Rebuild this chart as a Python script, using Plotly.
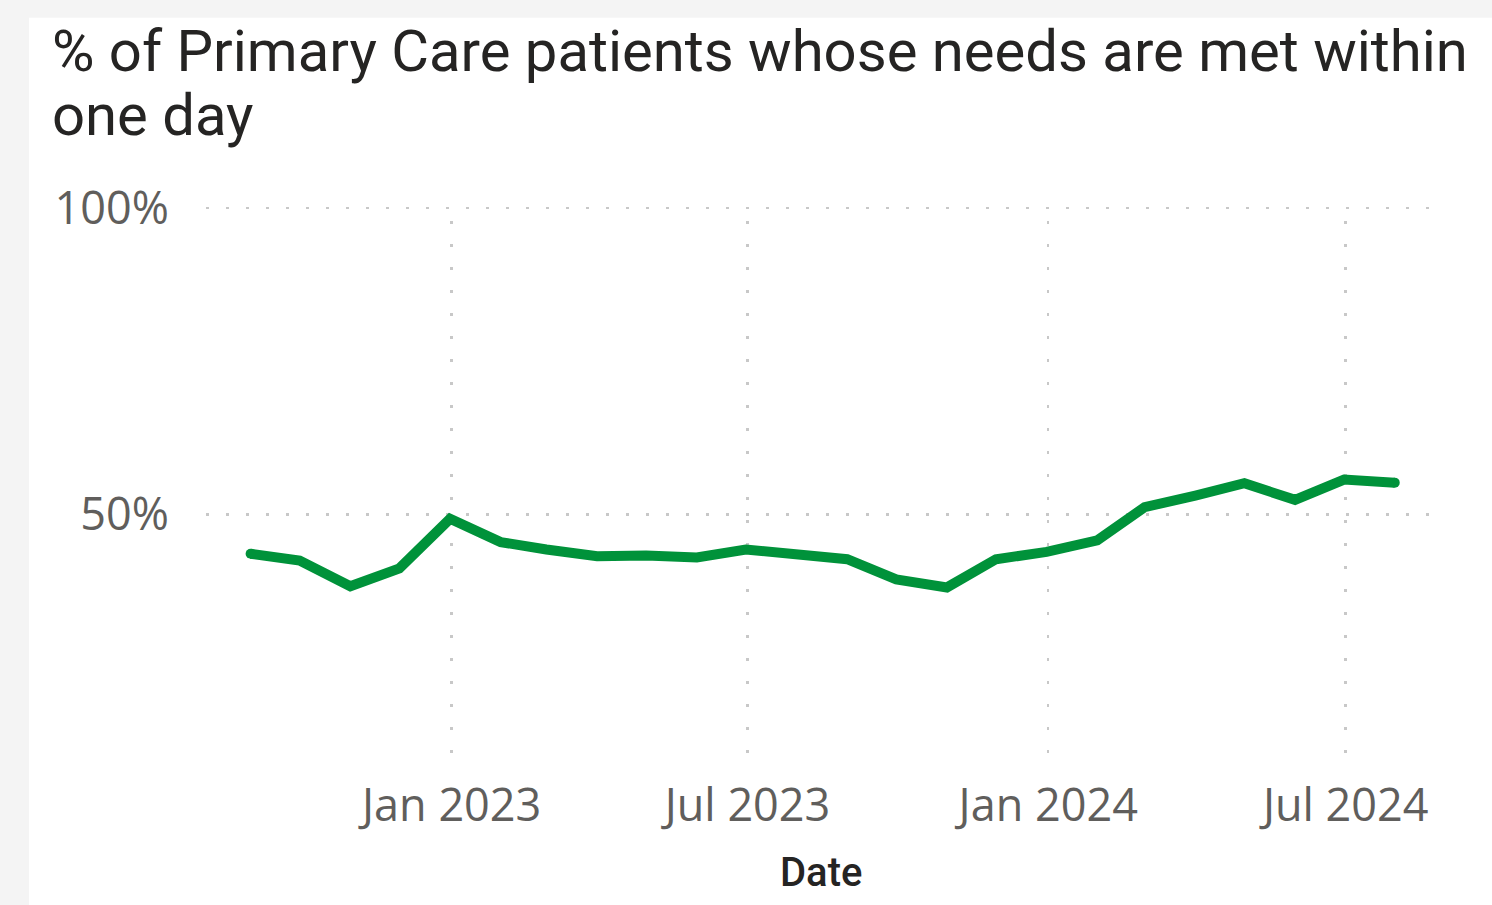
import plotly.graph_objects as go

# ---- data ----
dates = [
    "2022-08-31", "2022-09-30", "2022-10-31", "2022-11-30", "2022-12-31",
    "2023-01-31", "2023-02-28", "2023-03-31", "2023-04-30", "2023-05-31",
    "2023-06-30", "2023-07-31", "2023-08-31", "2023-09-30", "2023-10-31",
    "2023-11-30", "2023-12-31", "2024-01-31", "2024-02-29", "2024-03-31",
    "2024-04-30", "2024-05-31", "2024-06-30", "2024-07-31",
]
pct_met = [
    43.6, 42.5, 38.3, 41.2, 49.3, 45.5, 44.3, 43.2, 43.3, 43.0, 44.3, 43.5,
    42.7, 39.4, 38.1, 42.7, 43.9, 45.8, 51.2, 53.1, 55.1, 52.4, 55.7, 55.2,
]
x_tick_vals = ["2023-01-01", "2023-07-01", "2024-01-01", "2024-07-01"]
x_tick_text = ["Jan 2023", "Jul 2023", "Jan 2024", "Jul 2024"]
y_tick_vals = [50, 100]
y_tick_text = ["50%", "100%"]
title_lines = ["% of Primary Care patients whose needs are met within", "one day"]
x_title = "Date"

GREEN = "#00923A"
GRID = "#c8c8c8"
TICK_COLOR = "#605e5c"
TITLE_COLOR = "#252423"

# plot-area geometry (px) used to convert page positions to paper coords
L, T, W, H = 206, 201.6, 1226, 561.4


def px_x(px):
    return (px - L) / W


def px_y(py):
    return (T + H - py) / H


fig = go.Figure()
fig.add_trace(go.Scatter(
    x=dates, y=pct_met, mode="lines",
    line=dict(color=GREEN, width=10),
    hoverinfo="skip", showlegend=False,
))
# round end caps
fig.add_trace(go.Scatter(
    x=[dates[0], dates[-1]], y=[pct_met[0], pct_met[-1]], mode="markers",
    marker=dict(color=GREEN, size=10, line=dict(width=0)),
    hoverinfo="skip", showlegend=False,
))

fig.update_layout(
    width=1492, height=905,
    margin=dict(l=L, r=1492 - L - W, t=T, b=905 - T - H, pad=0),
    paper_bgcolor="#f4f4f4",
    plot_bgcolor="rgba(0,0,0,0)",
    showlegend=False,
    xaxis=dict(
        type="date",
        range=["2022-08-03 17:00", "2024-08-22 19:00"],
        tickvals=x_tick_vals, ticktext=x_tick_text,
        showgrid=True, gridcolor=GRID, gridwidth=2.5, griddash="0px,19px,3px,1px",
        zeroline=False, showline=False, ticks="",
        tickfont=dict(family="Open Sans", size=45, color=TICK_COLOR),
        ticklabelstandoff=12,
        fixedrange=True,
    ),
    yaxis=dict(
        range=[9.45, 101.0],
        tickvals=y_tick_vals, ticktext=y_tick_text,
        showgrid=True, gridcolor=GRID, gridwidth=2.5, griddash="3px,17px",
        zeroline=False, showline=False, ticks="",
        tickfont=dict(family="Open Sans", size=45, color=TICK_COLOR),
        ticklabelstandoff=36,
        fixedrange=True,
    ),
    shapes=[
        dict(type="rect", xref="paper", yref="paper", layer="below",
             x0=px_x(29), x1=px_x(1500), y0=px_y(910), y1=px_y(17.3),
             fillcolor="white", line=dict(width=0)),
    ],
    annotations=[
        dict(text=title_lines[0], xref="paper", yref="paper",
             x=px_x(50), y=px_y(50.8), xanchor="left", yanchor="middle",
             showarrow=False,
             font=dict(family="Roboto", size=58, color=TITLE_COLOR)),
        dict(text=title_lines[1], xref="paper", yref="paper",
             x=px_x(50), y=px_y(114.8), xanchor="left", yanchor="middle",
             showarrow=False,
             font=dict(family="Roboto", size=58, color=TITLE_COLOR)),
        dict(text=x_title, xref="paper", yref="paper",
             x=px_x(820.5), y=px_y(872.2), xanchor="center", yanchor="middle",
             showarrow=False,
             font=dict(family="Roboto", size=40, color=TITLE_COLOR, weight=500)),
    ],
)

fig.write_html(
    "out.html",
    config={"displayModeBar": False, "staticPlot": True},
    post_script="document.body.style.margin='0';document.body.style.overflow='hidden';",
)
